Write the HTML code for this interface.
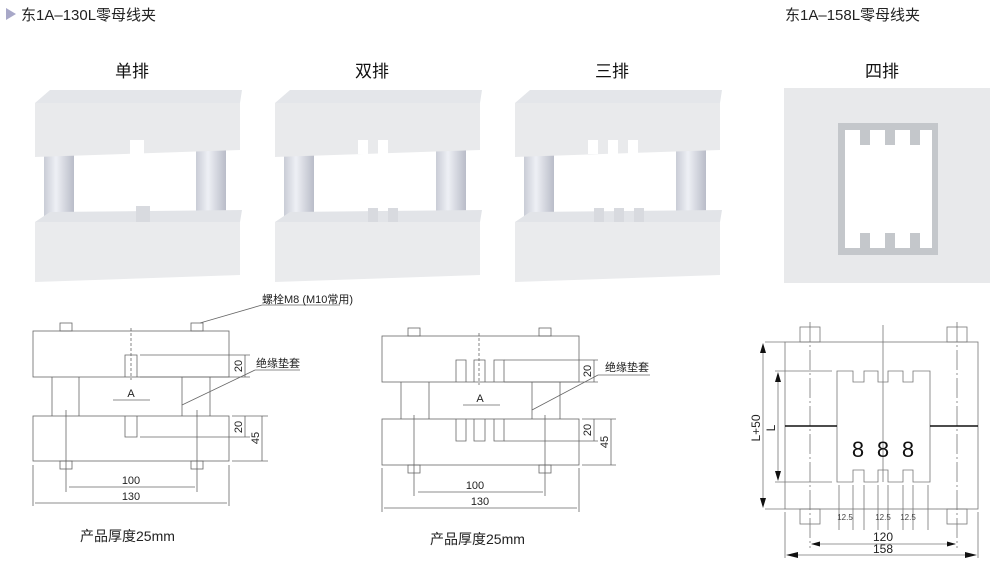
<!DOCTYPE html>
<html><head><meta charset="utf-8"><style>
html,body{margin:0;padding:0;background:#fff;}
svg{display:block;font-family:"Liberation Sans","Noto Sans CJK SC",sans-serif;}
</style></head><body>
<svg width="1000" height="564" viewBox="0 0 1000 564" xmlns="http://www.w3.org/2000/svg">
<defs>
<linearGradient id="col" x1="0" x2="1" y1="0" y2="0"><stop offset="0" stop-color="#c9ccd6"/><stop offset=".4" stop-color="#eef0f5"/><stop offset="1" stop-color="#b9bcc8"/></linearGradient>
<g id="photoBase">
  <!-- columns -->
  <rect x="44" y="150" width="30" height="80" fill="url(#col)"/>
  <rect x="196" y="145" width="30" height="80" fill="url(#col)"/>
  <!-- top block -->
  <polygon points="35,103 50,90 242,90 240,103" fill="#e4e6ea"/>
  <polygon points="35,103 240,103 240,150 35,157" fill="#e9eaec"/>
  <!-- bottom block -->
  <polygon points="35,222 50,212 242,210 240,222" fill="#e2e4e8"/>
  <polygon points="35,222 240,222 240,275 35,282" fill="#eaebed"/>
</g>
</defs>

<!-- headers -->
<polygon points="6,8 16,14 6,20" fill="#a8a8c8"/>
<text x="21" y="20" font-size="15" fill="#222">东1A–130L零母线夹</text>
<text x="785" y="20" font-size="15" fill="#222">东1A–158L零母线夹</text>

<g font-size="17" fill="#111" text-anchor="middle">
<text x="132" y="77">单排</text><text x="372" y="77">双排</text><text x="612" y="77">三排</text><text x="882" y="77">四排</text>
</g>

<!-- photo 1 -->
<g><use href="#photoBase"/>
<rect x="130" y="140" width="14" height="14" fill="#fff"/>
<rect x="136" y="206" width="14" height="16" fill="#d8dadf"/>
</g>
<g transform="translate(240,0)"><use href="#photoBase"/>
<rect x="118" y="140" width="10" height="14" fill="#fff"/><rect x="138" y="140" width="10" height="14" fill="#fff"/>
<rect x="128" y="208" width="10" height="14" fill="#d8dadf"/><rect x="148" y="208" width="10" height="14" fill="#d8dadf"/>
</g>
<g transform="translate(480,0)"><use href="#photoBase"/>
<rect x="108" y="140" width="10" height="14" fill="#fff"/><rect x="128" y="140" width="10" height="14" fill="#fff"/><rect x="148" y="140" width="10" height="14" fill="#fff"/>
<rect x="114" y="208" width="10" height="14" fill="#d8dadf"/><rect x="134" y="208" width="10" height="14" fill="#d8dadf"/><rect x="154" y="208" width="10" height="14" fill="#d8dadf"/>
</g>
<!-- photo 4 -->
<rect x="784" y="88" width="206" height="195" fill="#e8e9eb"/>
<rect x="838" y="123" width="100" height="132" fill="#c4c7cb"/>
<path d="M845,130 H860 V145 H870 V130 H885 V145 H895 V130 H910 V145 H920 V130 H932 V248 H920 V233 H910 V248 H895 V233 H885 V248 H870 V233 H860 V248 H845 Z" fill="#fff"/>

<!-- drawing 1 -->
<g fill="none" stroke="#666" stroke-width="0.8">
<rect x="33" y="331" width="196" height="46"/><rect x="33" y="416" width="196" height="45"/>
<line x1="52" y1="377" x2="52" y2="416"/><line x1="79" y1="377" x2="79" y2="416"/>
<line x1="182" y1="377" x2="182" y2="416"/><line x1="210" y1="377" x2="210" y2="416"/>
<path d="M125,377 V355 H137 V377"/><path d="M125,416 V437 H137 V416"/>
<line x1="131" y1="328" x2="131" y2="380" stroke-dasharray="3,2"/>
<rect x="60" y="323" width="12" height="8"/><rect x="191" y="323" width="12" height="8"/>
<rect x="60" y="461" width="12" height="8"/><rect x="191" y="461" width="12" height="8"/>
<line x1="66" y1="410" x2="66" y2="492"/><line x1="197" y1="410" x2="197" y2="492"/>
<line x1="69" y1="487" x2="195" y2="487"/><line x1="33" y1="465" x2="33" y2="506"/><line x1="229" y1="465" x2="229" y2="506"/>
<line x1="35" y1="503" x2="227" y2="503"/>
<line x1="140" y1="355" x2="250" y2="355"/><line x1="140" y1="377" x2="250" y2="377"/><line x1="245" y1="355" x2="245" y2="377"/>
<line x1="140" y1="437" x2="250" y2="437"/><line x1="232" y1="416" x2="268" y2="416"/><line x1="232" y1="461" x2="268" y2="461"/>
<line x1="245" y1="416" x2="245" y2="437"/><line x1="262" y1="416" x2="262" y2="461"/>
<line x1="113" y1="400" x2="150" y2="400"/>
<line x1="200" y1="323" x2="262" y2="305"/><line x1="262" y1="305" x2="340" y2="305"/>
<line x1="182" y1="405" x2="255" y2="370"/><line x1="255" y1="370" x2="300" y2="370"/>
<line x1="425" y1="370" x2="425" y2="370"/>
</g>
<g font-size="11" fill="#222">
<text x="131" y="397" text-anchor="middle">A</text>
<text x="131" y="484" text-anchor="middle">100</text><text x="131" y="500" text-anchor="middle">130</text>
<text x="262" y="303">螺栓M8 (M10常用)</text><text x="256" y="367">绝缘垫套</text>
<text transform="translate(242,366) rotate(-90)" text-anchor="middle">20</text>
<text transform="translate(242,427) rotate(-90)" text-anchor="middle">20</text>
<text transform="translate(259,438) rotate(-90)" text-anchor="middle">45</text>
</g>
<text x="80" y="541" font-size="14" fill="#222">产品厚度25mm</text>

<!-- drawing 2 -->
<g fill="none" stroke="#666" stroke-width="0.8">
<rect x="382" y="336" width="197" height="46"/><rect x="382" y="419" width="197" height="46"/>
<line x1="401" y1="382" x2="401" y2="419"/><line x1="429" y1="382" x2="429" y2="419"/>
<line x1="532" y1="382" x2="532" y2="419"/><line x1="560" y1="382" x2="560" y2="419"/>
<path d="M456,382 V360 H466 V382 M474,382 V360 H485 V382 M494,382 V360 H504 V382"/>
<path d="M456,419 V441 H466 V419 M474,419 V441 H485 V419 M494,419 V441 H504 V419"/>
<line x1="479" y1="333" x2="479" y2="385" stroke-dasharray="3,2"/>
<rect x="408" y="328" width="12" height="8"/><rect x="539" y="328" width="12" height="8"/>
<rect x="408" y="465" width="12" height="8"/><rect x="539" y="465" width="12" height="8"/>
<line x1="414" y1="415" x2="414" y2="496"/><line x1="545" y1="415" x2="545" y2="496"/>
<line x1="418" y1="492" x2="543" y2="492"/><line x1="382" y1="468" x2="382" y2="512"/><line x1="579" y1="468" x2="579" y2="512"/>
<line x1="384" y1="508" x2="577" y2="508"/>
<line x1="504" y1="360" x2="598" y2="360"/><line x1="504" y1="382" x2="598" y2="382"/><line x1="594" y1="360" x2="594" y2="382"/>
<line x1="504" y1="441" x2="598" y2="441"/><line x1="582" y1="419" x2="616" y2="419"/><line x1="582" y1="465" x2="616" y2="465"/>
<line x1="594" y1="419" x2="594" y2="441"/><line x1="611" y1="419" x2="611" y2="465"/>
<line x1="463" y1="405" x2="500" y2="405"/>
<line x1="532" y1="410" x2="598" y2="375"/><line x1="598" y1="375" x2="650" y2="375"/>
</g>
<g font-size="11" fill="#222">
<text x="480" y="402" text-anchor="middle">A</text>
<text x="475" y="489" text-anchor="middle">100</text><text x="480" y="505" text-anchor="middle">130</text>
<text x="605" y="371">绝缘垫套</text>
<text transform="translate(591,371) rotate(-90)" text-anchor="middle">20</text>
<text transform="translate(591,430) rotate(-90)" text-anchor="middle">20</text>
<text transform="translate(608,442) rotate(-90)" text-anchor="middle">45</text>
</g>
<text x="430" y="544" font-size="14" fill="#222">产品厚度25mm</text>

<!-- drawing 3 -->
<g fill="none" stroke="#777" stroke-width="0.8">
<rect x="785" y="342" width="193" height="167"/>
<path d="M837,371 H853 V382 H864 V371 H878 V382 H888 V371 H903 V382 H913 V371 H930 V482 H913 V470 H903 V482 H888 V470 H878 V482 H864 V470 H853 V482 H837 Z"/>
<rect x="800" y="327" width="20" height="15"/><rect x="947" y="327" width="20" height="15"/>
<rect x="800" y="509" width="20" height="15"/><rect x="947" y="509" width="20" height="15"/>
<line x1="810" y1="322" x2="810" y2="548" stroke-dasharray="20,3,2,3"/><line x1="957" y1="322" x2="957" y2="548" stroke-dasharray="20,3,2,3"/>
<line x1="883" y1="325" x2="883" y2="482"/>
<line x1="765" y1="342" x2="785" y2="342"/><line x1="765" y1="509" x2="785" y2="509"/>
<line x1="775" y1="371" x2="832" y2="371"/><line x1="775" y1="482" x2="832" y2="482"/>
<line x1="763" y1="345" x2="763" y2="506"/><line x1="778" y1="374" x2="778" y2="479"/>
<line x1="785" y1="512" x2="785" y2="558"/><line x1="978" y1="512" x2="978" y2="558"/>
<line x1="812" y1="544" x2="955" y2="544"/><line x1="788" y1="555" x2="975" y2="555"/>
<path d="M839,485 V530 M853,485 V530 M864,485 V530 M878,485 V530 M888,485 V530 M903,485 V530 M913,485 V530 M928,485 V530"/>
</g>
<g stroke="#111" stroke-width="1.6"><line x1="785" y1="426" x2="837" y2="426"/><line x1="930" y1="426" x2="978" y2="426"/></g>
<g fill="#111">
<polygon points="763,343 760,353 766,353"/><polygon points="763,508 760,498 766,498"/>
<polygon points="778,372 775,382 781,382"/><polygon points="778,481 775,471 781,471"/>
<polygon points="786,555 798,552 798,558"/><polygon points="977,555 965,552 965,558"/>
<polygon points="811,544 820,541.5 820,546.5"/><polygon points="956,544 947,541.5 947,546.5"/>
</g>
<g font-size="22" fill="#111" text-anchor="middle"><text x="858" y="457">8</text><text x="883" y="457">8</text><text x="908" y="457">8</text></g>
<g font-size="8" fill="#444" text-anchor="middle"><text x="845" y="520">12.5</text><text x="883" y="520">12.5</text><text x="908" y="520">12.5</text></g>
<g font-size="12" fill="#222" text-anchor="middle"><text x="883" y="541">120</text><text x="883" y="553">158</text>
<text transform="translate(760,428) rotate(-90)">L+50</text><text transform="translate(775,428) rotate(-90)">L</text></g>
</svg>
</body></html>
